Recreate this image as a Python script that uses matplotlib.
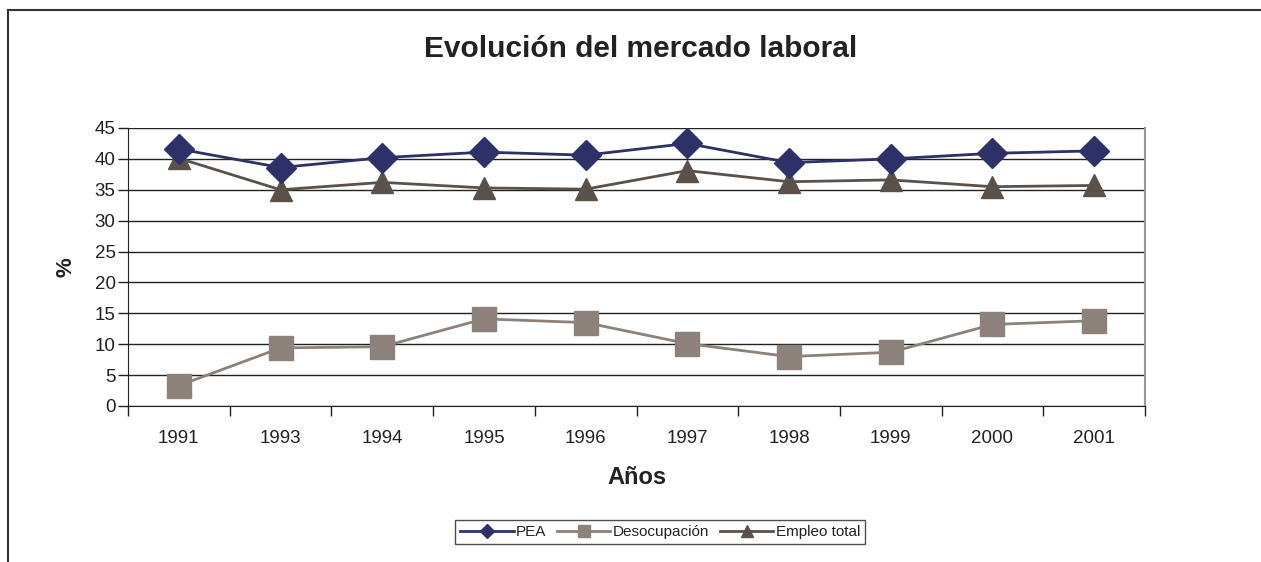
import matplotlib
matplotlib.use('Agg')
import matplotlib.pyplot as plt
from matplotlib.lines import Line2D

plt.rcParams.update({'font.family': ['Liberation Sans', 'DejaVu Sans']})

# Daten
anios = ['1991', '1993', '1994', '1995', '1996', '1997', '1998', '1999', '2000', '2001']
pea = [41.6, 38.6, 40.2, 41.1, 40.6, 42.5, 39.4, 40.0, 40.9, 41.3]
desocupacion = [3.3, 9.4, 9.6, 14.1, 13.5, 10.1, 8.0, 8.7, 13.2, 13.8]
empleo_total = [40.1, 35.0, 36.2, 35.3, 35.1, 38.1, 36.3, 36.6, 35.5, 35.7]

W, H = 1261, 562
fig = plt.figure(figsize=(W / 100, H / 100), dpi=100)
ax = fig.add_axes([128 / W, 1 - 406 / H, (1145 - 128) / W, (406 - 128) / H])

txt = '#222222'
x = list(range(len(anios)))
ax.plot(x, pea, color='#2E3168', lw=2, marker='D', ms=15, label='PEA', zorder=4)
ax.plot(x, desocupacion, color='#8C817B', lw=2, marker='s', ms=17, label='Desocupación', zorder=3)
ax.plot(x, empleo_total, color='#5A514B', lw=2, marker='^', ms=16, label='Empleo total', zorder=3)

ax.set_ylim(0, 45)
ax.set_yticks(range(0, 46, 5))
ax.set_xlim(-0.5, len(anios) - 0.5)
ax.set_xticks([i - 0.5 for i in range(len(anios) + 1)])
ax.set_xticklabels([])
ax.set_xticks(x, minor=True)
ax.set_xticklabels(anios, minor=True)
ax.tick_params(axis='x', which='major', length=7, width=1, color=txt, direction='out')
ax.tick_params(axis='x', which='minor', length=0, pad=17, labelsize=13.5, labelcolor=txt)
ax.tick_params(axis='y', length=7, width=1, color=txt, labelsize=13.5, pad=2, labelcolor=txt)
ax.grid(axis='y', color=txt, lw=1)
ax.set_axisbelow(True)

ax.spines['top'].set_visible(False)
ax.spines['right'].set_color('#999999')
ax.spines['right'].set_linewidth(1.5)
ax.spines['left'].set_color(txt)
ax.spines['bottom'].set_color(txt)

ax.set_xlabel('Años', fontsize=17, fontweight='bold', labelpad=14, color=txt)
ax.set_ylabel('%', fontsize=16, fontweight='bold', labelpad=13, color=txt)
fig.text(641 / W, 1 - 49 / H, 'Evolución del mercado laboral', fontsize=21.5, fontweight='bold',
         ha='center', va='center', color=txt)

leg = fig.legend(loc='center', bbox_to_anchor=(660 / W, 1 - 532 / H), ncol=3, fontsize=11,
                 frameon=True, fancybox=False, edgecolor=txt, markerscale=0.5,
                 handlelength=3.5, handletextpad=0.15, columnspacing=0.7, borderpad=0.35)
leg.get_frame().set_linewidth(1)
for t in leg.get_texts():
    t.set_color(txt)

# Rahmen des Diagramms
fig.add_artist(Line2D([8 / W, 8 / W], [0, 1 - 10 / H], color='#333333', lw=1.5, transform=fig.transFigure))
fig.add_artist(Line2D([8 / W, 1], [1 - 10 / H, 1 - 10 / H], color='#333333', lw=1.5, transform=fig.transFigure))

fig.savefig('out.png', dpi=100)
